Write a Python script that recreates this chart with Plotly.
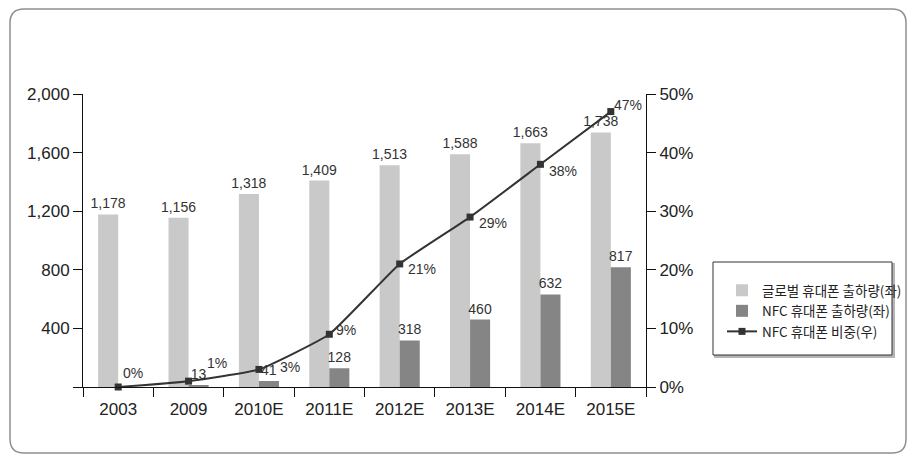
import plotly.graph_objects as go

categories = ["2003", "2009", "2010E", "2011E", "2012E", "2013E", "2014E", "2015E"]
global_shipments = [1178, 1156, 1318, 1409, 1513, 1588, 1663, 1738]
nfc_shipments = [None, 13, 41, 128, 318, 460, 632, 817]
nfc_share = [0.00, 0.01, 0.03, 0.09, 0.21, 0.29, 0.38, 0.47]
share_labels = ["0%", "1%", "3%", "9%", "21%", "29%", "38%", "47%"]
left_ticks = [0, 400, 800, 1200, 1600, 2000]
left_ticktext = ["", "400", "800", "1,200", "1,600", "2,000"]
right_ticks = [0, 0.1, 0.2, 0.3, 0.4, 0.5]
right_ticktext = ["0%", "10%", "20%", "30%", "40%", "50%"]
legend_names = ["글로벌 휴대폰 출하량(좌)", "NFC 휴대폰 출하량(좌)", "NFC 휴대폰 비중(우)"]

# label offsets (pixels) for the share labels
share_dx = [3, 16, 19, 5, 6, 7, 7, 1]
share_dy = [14, 18, 2, 4, -5, -6, -7, 7]

W, H = 917, 461
L, R, T, B = 83, 646, 94, 387
FONT = "Liberation Sans, Arial, Noto Sans CJK KR, sans-serif"


def px(x):
    return (x - L) / (R - L)


def py(y):
    return (B - y) / (B - T)


def rounded_path(x0, y0, x1, y1, r):
    pts = [
        f"M {px(x0 + r)},{py(y0)}",
        f"L {px(x1 - r)},{py(y0)}",
        f"Q {px(x1)},{py(y0)} {px(x1)},{py(y0 + r)}",
        f"L {px(x1)},{py(y1 - r)}",
        f"Q {px(x1)},{py(y1)} {px(x1 - r)},{py(y1)}",
        f"L {px(x0 + r)},{py(y1)}",
        f"Q {px(x0)},{py(y1)} {px(x0)},{py(y1 - r)}",
        f"L {px(x0)},{py(y0 + r)}",
        f"Q {px(x0)},{py(y0)} {px(x0 + r)},{py(y0)}",
        "Z",
    ]
    return " ".join(pts)


fig = go.Figure()

fig.add_trace(go.Bar(
    x=categories, y=global_shipments, name=legend_names[0],
    marker=dict(color="#c9c9c9", line=dict(width=0)),
    text=[f"{v:,}" for v in global_shipments], textposition="outside", constraintext="none",
    textfont=dict(size=14, color="#333333", family=FONT), cliponaxis=False,
))
fig.add_trace(go.Bar(
    x=categories, y=nfc_shipments, name=legend_names[1],
    marker=dict(color="#858585", line=dict(width=0)),
    text=[("" if v is None else f"{v:,}") for v in nfc_shipments], textposition="outside",
    constraintext="none",
    textfont=dict(size=14, color="#333333", family=FONT), cliponaxis=False,
))
fig.add_trace(go.Scatter(
    x=categories, y=nfc_share, name=legend_names[2], yaxis="y2",
    mode="lines+markers", line=dict(color="#333333", width=2, shape="spline", smoothing=0.4),
    marker=dict(symbol="square", size=7, color="#333333"), cliponaxis=False,
))

for i, (v, t, dx, dy) in enumerate(zip(nfc_share, share_labels, share_dx, share_dy)):
    fig.add_annotation(x=i, y=v, xref="x", yref="y2", text=t, showarrow=False,
                       xanchor="left", yanchor="middle", xshift=dx, yshift=dy,
                       font=dict(size=14, color="#333333", family=FONT))

# outer rounded frame
fig.add_shape(type="path", xref="paper", yref="paper",
              path=rounded_path(10, 9, 906, 453, 14),
              line=dict(color="#8f8f8f", width=1.5), fillcolor="rgba(0,0,0,0)", layer="below")

# legend box with shadow
fig.add_shape(type="rect", xref="paper", yref="paper",
              x0=px(715), y0=py(264), x1=px(894), y1=py(357),
              line=dict(color="#b5b5b5", width=2), fillcolor="#b5b5b5", layer="below")
fig.add_shape(type="rect", xref="paper", yref="paper",
              x0=px(713), y0=py(262), x1=px(892), y1=py(355),
              line=dict(color="#333333", width=1), fillcolor="white", layer="below")

fig.update_layout(
    width=W, height=H,
    margin=dict(l=L, r=W - R, t=T, b=H - B, pad=0, autoexpand=False),
    paper_bgcolor="white", plot_bgcolor="white",
    font=dict(family=FONT, size=17, color="#222222"),
    barmode="group", bargap=0.43, bargroupgap=0,
    showlegend=True,
    legend=dict(x=px(722), y=py(275), xanchor="left", yanchor="top",
                bgcolor="rgba(0,0,0,0)", borderwidth=0,
                font=dict(size=13.5, color="#222222", family="Noto Sans CJK KR, Liberation Sans"),
                tracegroupgap=4, itemwidth=30, traceorder="normal"),
    xaxis=dict(type="category", range=[-0.5, 7.5], showline=True, linecolor="#111111", linewidth=1,
               ticks="outside", ticklen=9, tickcolor="#111111", tickson="boundaries",
               showgrid=False, tickfont=dict(size=17, color="#222222"), tickangle=0,
               ticklabelstandoff=7),
    yaxis=dict(range=[0, 2000], tickvals=left_ticks, ticktext=left_ticktext,
               showline=True, linecolor="#111111", linewidth=1, ticks="outside",
               ticklen=9, tickcolor="#111111", showgrid=False, zeroline=False,
               tickfont=dict(size=17, color="#222222")),
    yaxis2=dict(range=[0, 0.5], tickvals=right_ticks, ticktext=right_ticktext,
                overlaying="y", side="right", showline=True, linecolor="#111111",
                linewidth=1, ticks="outside", ticklen=9, tickcolor="#111111",
                showgrid=False, zeroline=False, tickfont=dict(size=17, color="#222222")),
)

fig.write_html("out.html", config={"displayModeBar": False},
               post_script="document.body.style.margin='0';document.body.style.padding='0';")
